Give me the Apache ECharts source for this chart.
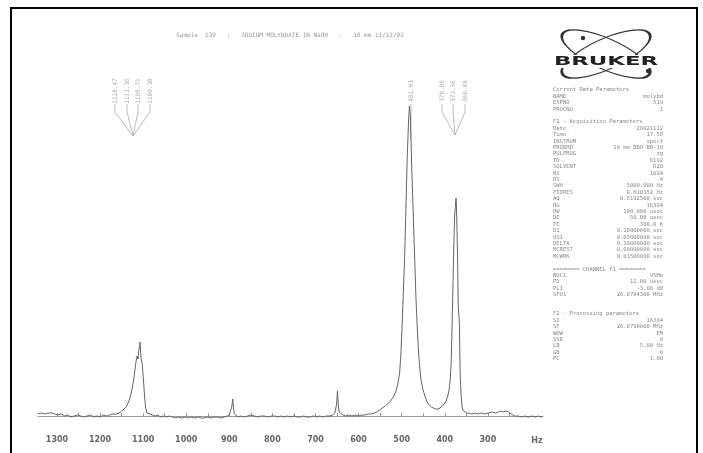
<!DOCTYPE html>
<html><head><meta charset="utf-8">
<script src="https://cdn.jsdelivr.net/npm/echarts@6/dist/echarts.min.js"></script>
<style>html,body{margin:0;padding:0;background:#fff;}#c{width:703px;height:453px;}</style>
</head><body><div id="c"></div>
<script>
// ---- data ----
const hz = [1344,1336,1328,1320,1312,1305,1298,1290,1282,1275,1268,1260,1252,1245,1238,1230,1222,1214,1207,1200,1192,1185,1178,1170,1162,1156,1150,1144,1138,1132,1126,1122,1119,1116,1114,1112,1110,1108,1107,1106,1104,1102,1100,1098,1096,1094,1091,1088,1084,1078,1072,1066,1060,1054,1046,1040,1032,1025,1018,1010,1002,995,988,980,972,965,958,950,942,935,928,920,912,905,900,896,894,892,890,888,885,880,874,866,858,850,842,834,826,818,810,802,795,788,780,772,765,758,750,742,735,728,720,712,705,698,690,682,675,668,660,655,651,649,647,645,641,636,630,622,615,608,600,592,585,578,571,564,558,551,545,538,530,524,518,513,509,505,502,499,496,493,490,487,484,482,480,478,476,473,470,467,464,461,458,455,451,446,441,436,431,426,421,416,411,406,401,397,393,390,387,385,383,381,379,377,375,374,373,372,371,370,369,368,367,366,365,364,362,360,358,355,350,344,338,330,322,314,306,298,290,282,276,270,264,258,252,246,238,230,222,214,206,198,190,182,176,172];
const intensity = [2,3,2,3,3,2,1,2,0,1,-1,0,1,0,-1,0,1,-1,0,-1,1,0,1,2,2,3,5,7,10,16,26,36,46,56,60,57,66,70,74,64,56,52,40,28,16,8,3,1,2,1,0,1,-1,0,-1,0,-1,-2,-1,-2,-1,-2,-1,-2,-1,-2,-2,-1,-2,-1,-1,-2,-1,0,1,3,10,17,7,2,0,-1,0,-1,0,1,0,-1,0,0,-1,0,0,-1,0,-1,0,-1,0,-1,-1,0,-1,-1,0,-1,0,-1,0,0,1,3,12,25,11,4,2,1,0,1,0,1,0,1,1,2,2,3,4,6,8,10,13,16,20,25,32,42,60,90,125,160,210,260,295,310,300,270,240,200,160,120,90,65,48,36,27,20,14,11,9,8,7,7,8,10,12,15,20,26,38,55,90,130,170,200,212,218,212,195,175,150,115,105,100,92,60,40,20,10,6,4,3,3,2,3,2,3,2,3,4,3,4,5,4,5,4,2,0,0,-1,0,-1,0,-1,0,-1,0];
const tickLabels = [1300,1200,1100,1000,900,800,700,600,500,400,300];
const minorTicks = [1300,1250,1200,1150,1100,1050,1000,950,900,850,800,750,700,650,600,550,500,450,400,350,300,250];
const axisUnit = 'Hz';
const titleText = 'Sample  139   :   SODIUM MOLYBDATE IN NaOH   .   10 mm 11/12/02';
const leftGroupLabels = ['1118.47','1111.36','1105.71','1100.30'];
const midLabel = ['481.93'];
const rightGroupLabels = ['378.05','372.36','366.48'];
const paramNames = ['Current Data Parameters','NAME','EXPNO','PROCNO','',
 'F2 - Acquisition Parameters','Date_','Time','INSTRUM','PROBHD','PULPROG','TD','SOLVENT','NS','DS','SWH','FIDRES','AQ','RG','DW','DE','TE','D1','d11','DELTA','MCREST','MCWRK','',
 '======== CHANNEL f1 ========','NUC1','P1','PL1','SFO1','','',
 'F2 - Processing parameters','SI','SF','WDW','SSB','LB','GB','PC'];
const paramValues = ['','molybd','519','1','',
 '','20021112','17.58','spect','10 mm BBO BB-1H','zg','8192','D2O','1024','4','5000.000 Hz','0.610352 Hz','0.8192500 sec','16384','100.000 usec','50.00 usec','300.0 K','0.10000000 sec','0.03000000 sec','0.10000000 sec','0.00000000 sec','0.01500000 sec','',
 '','95Mo','12.00 usec','-3.00 dB','26.0794300 MHz','','',
 '','16384','26.0790000 MHz','EM','0','5.00 Hz','0','1.00'];

const chart = echarts.init(document.getElementById('c'), null, {renderer:'canvas'});
const mono = 'DejaVu Sans Mono';
const gfx = [];
// frame
gfx.push({type:'rect', shape:{x:11,y:8,width:686,height:470}, style:{fill:'none', stroke:'#000', lineWidth:2}, z:10});
// title
gfx.push({type:'text', x:290, y:35, style:{text:titleText, font:'6px '+mono, fill:'#999', align:'center', verticalAlign:'middle'}});
// unit
gfx.push({type:'text', x:537, y:441, style:{text:axisUnit, font:'bold 8px "DejaVu Sans"', fill:'#666', align:'center', verticalAlign:'middle'}});
// logo
[0.42,-0.42].forEach(r=>{
  gfx.push({type:'circle', x:606, y:54, rotation:r, scaleY:0.32, shape:{cx:0,cy:0,r:48}, style:{fill:'none', stroke:'#333', lineWidth:1.6, strokeNoScale:true}});
});
gfx.push({type:'circle', x:583, y:38, shape:{cx:0,cy:0,r:2.2}, style:{fill:'#333'}});
gfx.push({type:'circle', x:648, y:71, shape:{cx:0,cy:0,r:2.2}, style:{fill:'#333'}});
gfx.push({type:'rect', shape:{x:551,y:55,width:112,height:13}, style:{fill:'#fff'}});
gfx.push({type:'text', x:606, y:61.5, scaleX:1.9, style:{text:'BRUKER', font:'bold 12px "DejaVu Sans"', fill:'#222', align:'center', verticalAlign:'middle'}});
// parameters
paramNames.forEach((n,i)=>{
  const y = 90 + i*6.4;
  if(n) gfx.push({type:'text', x:553, y:y, style:{text:n, font:'5.5px '+mono, fill:'#888', align:'left', verticalAlign:'middle'}});
  if(paramValues[i]) gfx.push({type:'text', x:663, y:y, style:{text:paramValues[i], font:'5.5px '+mono, fill:'#888', align:'right', verticalAlign:'middle'}});
});
// peak label annotations
function vlabel(x, txt){
  gfx.push({type:'text', x:x, y:91, rotation:Math.PI/2, style:{text:txt, font:'6px '+mono, fill:'#aaa', align:'center', verticalAlign:'middle'}});
  gfx.push({type:'line', shape:{x1:x,y1:104,x2:x,y2:112}, style:{stroke:'#aaa', lineWidth:0.8}});
}
const lx = [115,127,138,150];
leftGroupLabels.forEach((t,i)=>{ vlabel(lx[i], t); gfx.push({type:'line', shape:{x1:lx[i],y1:112,x2:133,y2:136}, style:{stroke:'#aaa', lineWidth:0.8}}); });
vlabel(411, midLabel[0]);
gfx.push({type:'line', shape:{x1:411,y1:112,x2:411,y2:140}, style:{stroke:'#aaa', lineWidth:0.8}});
const rx = [442,453,465];
rightGroupLabels.forEach((t,i)=>{ vlabel(rx[i], t); gfx.push({type:'line', shape:{x1:rx[i],y1:112,x2:455,y2:135}, style:{stroke:'#aaa', lineWidth:0.8}}); });

chart.setOption({
  animation:false,
  backgroundColor:'#fff',
  grid:{left:38, right:160, top:105, bottom:24, containLabel:false},
  xAxis:{type:'value', inverse:true, min:172, max:1344,
    axisLine:{show:true, lineStyle:{color:'#999', width:1}},
    axisTick:{show:true, inside:true, length:3, customValues:minorTicks, lineStyle:{color:'#999'}},
    axisLabel:{show:true, customValues:tickLabels, formatter:v=>String(v), fontSize:8, fontWeight:'bold', color:'#666', margin:7, fontFamily:'DejaVu Sans'},
    splitLine:{show:false}},
  yAxis:{type:'value', min:-13, max:311, show:false, splitLine:{show:false}},
  series:[{type:'line', showSymbol:false, data:hz.map((h,i)=>[h,intensity[i]]),
    lineStyle:{color:'#666', width:1}, clip:false}],
  graphic:gfx
});
</script></body></html>
